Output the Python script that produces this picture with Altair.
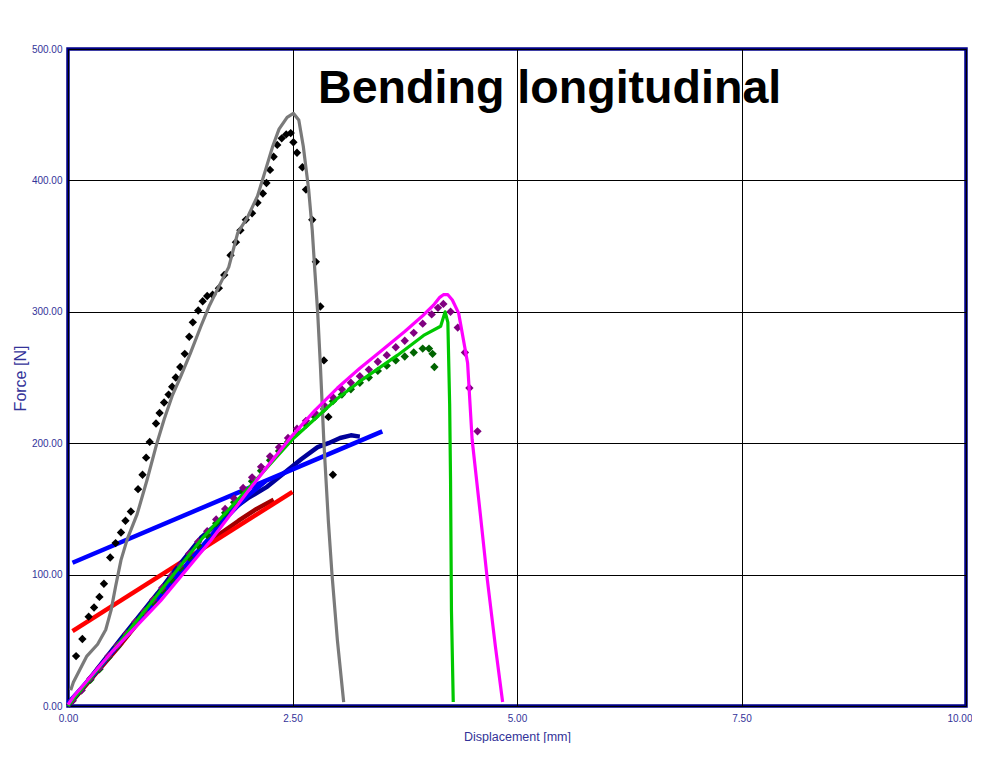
import altair as alt
import pandas as pd

# ---------------- data ----------------
# black diamonds (test, series 1)
black_x = [0.09, 0.16, 0.23, 0.29, 0.35, 0.40, 0.47, 0.53, 0.59, 0.64, 0.70, 0.78, 0.83, 0.87, 0.91,
           0.98, 1.02, 1.07, 1.12, 1.16, 1.20, 1.25, 1.30, 1.35, 1.39, 1.45, 1.50, 1.55, 1.61, 1.68,
           1.74, 1.81, 1.87, 1.92, 1.98, 2.05, 2.11, 2.17, 2.21, 2.25, 2.29, 2.33, 2.38, 2.43, 2.48,
           2.51, 2.55, 2.61, 2.65, 2.72, 2.76, 2.81, 2.85, 2.90, 2.95]
black_y = [38, 51, 68, 75, 83, 93, 113, 124, 132, 141, 148, 165, 176, 189, 201,
           215, 223, 231, 237, 243, 250, 258, 268, 281, 292, 301, 308, 312, 313, 318,
           328, 343, 353, 362, 370, 375, 383, 390, 398, 408, 418, 427, 432, 435, 436,
           429, 421, 410, 393, 370, 338, 304, 263, 220, 176]

# grey line (simulation 1)
grey_x = [0.03, 0.06, 0.21, 0.33, 0.42, 0.48, 0.53, 0.59, 0.66, 0.77, 0.88, 0.99, 1.07, 1.16, 1.25,
          1.36, 1.48, 1.57, 1.70, 1.79, 1.89, 2.00, 2.11, 2.20, 2.28, 2.35, 2.44, 2.51, 2.57, 2.62,
          2.68, 2.72, 2.75, 2.78, 2.81, 2.85, 2.90, 2.94, 3.00, 3.07]
grey_y = [12, 18, 38, 47, 58, 73, 91, 111, 127, 146, 172, 200, 218, 236, 250,
          268, 289, 304, 322, 334, 360, 372, 388, 408, 426, 439, 448, 451, 446, 426,
          393, 362, 330, 300, 260, 200, 140, 100, 50, 3]

# magenta line (simulation 2)
magenta_x = [0.00, 0.06, 0.50, 1.03, 1.59, 2.00, 2.25, 2.50, 2.75, 3.00, 3.25, 3.50, 3.75, 3.95, 4.07,
             4.14, 4.18, 4.23, 4.28, 4.35, 4.45, 4.50, 4.59, 4.67, 4.76, 4.84]
magenta_y = [1, 7, 42, 80, 126, 163, 185, 206, 225, 242, 257, 271, 285, 297, 305,
             311, 313, 313, 309, 299, 261, 203, 147, 96, 45, 3]

# purple diamonds (test 2)
purple_x = [0.05, 0.15, 0.25, 0.35, 0.45, 0.55, 0.65, 0.75, 0.85, 0.95, 1.05, 1.15, 1.25, 1.35, 1.45,
            1.55, 1.65, 1.75, 1.85, 1.95, 2.05, 2.15, 2.25, 2.35, 2.45, 2.55, 2.65, 2.75, 2.85, 2.95,
            3.05, 3.15, 3.25, 3.35, 3.45, 3.55, 3.65, 3.75, 3.85, 3.95, 4.05, 4.12, 4.18, 4.26, 4.34,
            4.42, 4.47, 4.56]
purple_y = [4, 12, 21, 29, 38, 46, 55, 64, 72, 81, 90, 99, 107, 116, 125,
            133, 142, 150, 158, 166, 174, 182, 190, 197, 204, 211, 217, 223, 229, 235,
            241, 246, 251, 256, 262, 267, 273, 278, 284, 291, 298, 303, 306, 300, 288,
            269, 242, 209]

# bright green line (simulation 3)
green_x = [0.00, 0.50, 1.00, 1.50, 2.00, 2.50, 3.00, 3.29, 3.67, 3.96, 4.15, 4.20, 4.23, 4.25, 4.26,
           4.27, 4.29]
green_y = [0, 42, 85, 128, 165, 203, 234, 249, 267, 282, 289, 300, 292, 230, 172,
           73, 3]

# dark green diamonds (test 3)
dgreen_x = [0.05, 0.15, 0.25, 0.35, 0.45, 0.55, 0.65, 0.75, 0.85, 0.95, 1.05, 1.15, 1.25, 1.35, 1.45,
            1.55, 1.65, 1.75, 1.85, 1.95, 2.05, 2.15, 2.25, 2.35, 2.45, 2.55, 2.65, 2.75, 2.85, 2.95,
            3.05, 3.15, 3.25, 3.35, 3.45, 3.55, 3.65, 3.75, 3.85, 3.95, 4.02, 4.06, 4.08]
dgreen_y = [4, 12, 20, 28, 37, 45, 54, 62, 71, 79, 88, 96, 105, 113, 122,
            130, 139, 147, 155, 163, 171, 179, 187, 194, 201, 208, 214, 220, 226, 232,
            237, 241, 246, 250, 255, 259, 263, 266, 269, 272, 272, 268, 258]

# navy test data
navy_x = [0.00, 0.30, 0.60, 1.00, 1.20, 1.48, 1.65, 1.84, 2.00, 2.22, 2.40, 2.60, 2.78, 2.90, 3.03, 3.15, 3.25]
navy_y = [0, 26, 52, 86, 104, 128, 138, 150, 158, 167, 177, 188, 197, 200, 204, 206, 205]

# bright blue test data and its straight line
blue_x = [0.00, 0.30, 0.60, 1.00, 1.20, 1.50, 1.80, 2.00, 2.20]
blue_y = [2, 25, 50, 82, 98, 122, 146, 160, 171]
blueline_x = [0.05, 3.50]
blueline_y = [109, 209]

# dark red test data and red straight line
dred_x = [0.00, 0.30, 0.60, 1.00, 1.22, 1.59, 1.90, 2.10, 2.29]
dred_y = [0, 24, 48, 82, 100, 126, 141, 150, 157]
red_x = [0.05, 2.50]
red_y = [57, 163]

x_ticks = [0, 2.5, 5, 7.5, 10]
y_ticks = [0, 100, 200, 300, 400, 500]

# ---------------- build tables ----------------
def table(name, xs, ys):
    return pd.DataFrame({"series": name, "i": range(len(xs)), "disp": xs, "force": ys})

lines = pd.concat([
    table("dred", dred_x, dred_y),
    table("red", red_x, red_y),
    table("navy", navy_x, navy_y),
    table("blue", blue_x, blue_y),
    table("blueline", blueline_x, blueline_y),
], ignore_index=True)

top_lines = pd.concat([
    table("grey", grey_x, grey_y),
    table("green", green_x, green_y),
    table("magenta", magenta_x, magenta_y),
], ignore_index=True)

points = pd.concat([
    table("black", black_x, black_y),
    table("dgreen", dgreen_x, dgreen_y),
    table("purple", purple_x, purple_y),
], ignore_index=True)

dom = ["dred", "red", "navy", "blue", "blueline", "grey", "green", "magenta", "black", "dgreen", "purple"]
rng = ["#a00000", "#ff0000", "#000099", "#0000ff", "#0000ff", "#7a7a7a", "#00c800", "#ff00ff",
       "#000000", "#006400", "#800080"]
color = alt.Color("series:N", scale=alt.Scale(domain=dom, range=rng), legend=None)

x_enc = alt.X("disp:Q", scale=alt.Scale(domain=[0, 10], nice=False),
              axis=alt.Axis(values=x_ticks, format=".2f", title="Displacement [mm]",
                            labelPadding=7, titleX=449, titleY=30, titleBaseline="middle",
                            labelAlign={"condition": {"test": "datum.value >= 10", "value": "right"},
                                        "value": "center"},
                            labelOffset={"condition": {"test": "datum.value >= 10", "value": 6},
                                         "value": 0}))
y_enc = alt.Y("force:Q", scale=alt.Scale(domain=[0, 500], nice=False),
              axis=alt.Axis(values=y_ticks, format=".2f", title="Force [N]",
                            labelPadding=6, titleX=-48, titleY=329, titleBaseline="middle",
                            titleFontSize=16))

noisy = alt.Chart(lines).mark_line(strokeWidth=4.5, strokeJoin="round").encode(
    x=x_enc, y=y_enc, color=color, detail="series:N", order="i:Q")

pts = alt.Chart(points).mark_point(shape="diamond", filled=True, size=70, opacity=1).encode(
    x="disp:Q", y="force:Q", color=color)

sims = alt.Chart(top_lines).mark_line(strokeWidth=3.2, strokeJoin="round").encode(
    x="disp:Q", y="force:Q", color=color, detail="series:N", order="i:Q")

title = alt.Chart(pd.DataFrame({"t": ["Bending longitudinal"]})).mark_text(
    align="left", baseline="alphabetic", fontSize=46.6, fontWeight="bold",
    font="Liberation Sans", color="black").encode(
    x=alt.value(250), y=alt.value(54), text="t:N")

chart = alt.layer(noisy, pts, sims, title).properties(
    width=898, height=657,
    autosize=alt.AutoSizeParams(type="none"),
    padding={"left": 60, "top": 41, "right": 6, "bottom": 37},
    background="white",
).configure_view(
    stroke="#000088", strokeWidth=3.5
).configure_axis(
    grid=True, gridColor="black", gridWidth=1, gridOpacity=1,
    domain=False, ticks=False, tickSize=0,
    labelFont="Liberation Sans", labelFontSize=10, labelColor="#333399",
    labelFlush=False, labelOverlap=False,
    titleFont="Liberation Sans", titleFontWeight="normal", titleColor="#333399",
    titleFontSize=12.5,
)

chart.save("out.html", embed_options={"renderer": "svg", "actions": False})
